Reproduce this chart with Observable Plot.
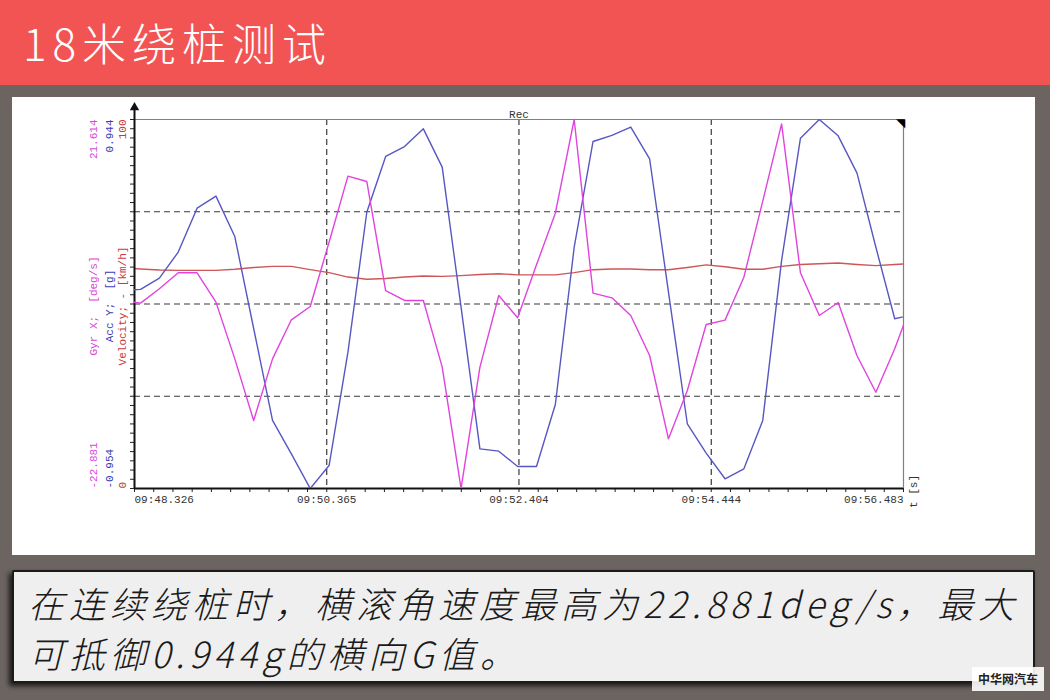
<!DOCTYPE html>
<html><head><meta charset="utf-8">
<script src="https://cdn.jsdelivr.net/npm/d3@7"></script>
<script src="https://cdn.jsdelivr.net/npm/@observablehq/plot@0.6"></script>
<style>
html,body{margin:0;padding:0;}
body{width:1050px;height:700px;background:#6b6460;position:relative;overflow:hidden;font-family:"Noto Sans CJK SC","Noto Sans",sans-serif;}
#header{position:absolute;left:0;top:0;width:1050px;height:85px;background:#f25454;}
#title{position:absolute;left:23px;top:13px;font-size:44px;line-height:58px;color:#fff;letter-spacing:6px;font-weight:300;white-space:nowrap;}
#panel{position:absolute;left:12px;top:97px;width:1023px;height:458px;background:#fff;}
#panel svg{position:absolute;left:0;top:0;overflow:visible;}
#caption{position:absolute;left:12px;top:570px;width:1023px;height:113px;box-sizing:border-box;border:2px solid #1b1b1b;border-radius:2px;background:#efefef;box-shadow:-3px 3px 5px rgba(0,0,0,0.75);}
.cl{position:absolute;left:14px;font-size:36px;line-height:40px;font-style:italic;letter-spacing:5px;color:#1a1a1a;white-space:nowrap;font-weight:300;}
#wm{position:absolute;left:972px;top:667px;width:72px;height:24px;background:rgba(255,255,255,0.9);font-size:12px;font-weight:bold;line-height:24px;text-align:center;color:#222;letter-spacing:0px;}
</style></head>
<body>
<div id="header"><div id="title">18米绕桩测试</div></div>
<div id="panel"></div>
<div id="caption">
  <div class="cl" style="top:10px">在连续绕桩时，横滚角速度最高为22.881deg/s，最大</div>
  <div class="cl" style="top:60px">可抵御0.944g的横向G值。</div>
</div>
<div id="wm">中华网汽车</div>
<script>
// sample times (seconds past 09:48)
const times = [48.19, 48.39, 48.59, 48.79, 48.99, 49.19, 49.39, 49.59, 49.79, 49.99,
  50.19, 50.39, 50.59, 50.79, 50.99, 51.19, 51.39, 51.59, 51.79, 51.99,
  52.19, 52.39, 52.59, 52.79, 52.99, 53.19, 53.39, 53.59, 53.79, 53.99,
  54.19, 54.39, 54.59, 54.79, 54.99, 55.19, 55.39, 55.59, 55.79, 55.99,
  56.19, 56.39, 56.59];
// Gyr X [deg/s]
const gyrX = [-0.21, -0.53, 1.20, 3.13, 3.13, -0.41, -7.25, -14.68, -7.25, -2.54,
  -0.94, 6.82, 14.78, 14.14, 0.99, -0.21, -0.21, -8.25, -22.881, -8.25,
  0.39, -2.30, 4.09, 10.32, 21.614, 0.67, 0.11, -2.02, -6.84, -16.89,
  -11.06, -3.11, -2.58, 2.60, 11.77, 21.09, 3.13, -2.02, -0.45, -6.88,
  -11.27, -6.04, 0.11];
// Acc Y [g]
const accY = [0.064, 0.070, 0.128, 0.262, 0.488, 0.550, 0.342, -0.131, -0.604, -0.776,
  -0.954, -0.836, -0.253, 0.467, 0.754, 0.805, 0.896, 0.699, -0.021, -0.750,
  -0.762, -0.841, -0.841, -0.522, 0.287, 0.831, 0.862, 0.905, 0.742, 0.056,
  -0.621, -0.772, -0.904, -0.853, -0.604, 0.219, 0.848, 0.944, 0.860, 0.668,
  0.287, -0.081, -0.059];
// Velocity [km/h]
const velocity = [59.8, 59.5, 59.2, 59.1, 59.1, 59.1, 59.4, 59.9, 60.2, 60.2,
  59.3, 58.5, 57.3, 56.7, 56.9, 57.3, 57.6, 57.5, 57.7, 58.0,
  58.2, 57.9, 57.9, 57.9, 58.5, 59.3, 59.5, 59.5, 59.3, 59.3,
  59.9, 60.6, 60.1, 59.4, 59.4, 60.2, 60.7, 60.9, 61.1, 60.7,
  60.4, 60.7, 61.0];

const xTicks = [48.326, 50.365, 52.404, 54.444, 56.483];
const xTickLabels = ["09:48.326", "09:50.365", "09:52.404", "09:54.444", "09:56.483"];
const gyrRange = [-22.881, 21.614], gyrRangeLabels = ["-22.881", "21.614"];
const accRange = [-0.954, 0.944], accRangeLabels = ["-0.954", "0.944"];
const velRange = [0, 100], velRangeLabels = ["0", "100"];
const velGrid = [25, 50, 75];
const seriesTitles = ["Gyr X;  [deg/s]", "Acc Y;  [g]", "Velocity; - [km/h]"];

const rows = times.map((t, i) => ({t, gyr: gyrX[i], acc: accY[i], vel: velocity[i]}));
const W = 1023, H = 458;
const M = {marginLeft: 122, marginRight: 132, marginTop: 22, marginBottom: 67};
const xDomain = [xTicks[0], xTicks[xTicks.length - 1]];
const mono = "Liberation Mono, DejaVu Sans Mono, monospace";
const xMinor = d3.range(41).map(i => xDomain[0] + i * (xDomain[1] - xDomain[0]) / 40);
const yMinor = d3.range(41).map(i => i * 2.5);

function rangeLabels(range, labels, title, color, dx) {
  return [
    Plot.text([0], {x: xDomain[0], y: () => range[0], text: () => labels[0], rotate: -90, textAnchor: "start", lineAnchor: "middle", dx, fill: color, fontFamily: mono, fontSize: 11}),
    Plot.text([0], {x: xDomain[0], y: () => range[1], text: () => labels[1], rotate: -90, textAnchor: "end", lineAnchor: "middle", dx, fill: color, fontFamily: mono, fontSize: 11}),
    Plot.text([title], {frameAnchor: "left", rotate: -90, textAnchor: "middle", lineAnchor: "middle", dx, dy: 2, fill: color, fontFamily: mono, fontSize: 11})
  ];
}

const common = {width: W, height: H, ...M, style: {background: "transparent", overflow: "visible"}, x: {domain: xDomain, axis: null}};

const base = Plot.plot({
  ...common,
  y: {domain: velRange, axis: null},
  marks: [
    Plot.ruleY(velGrid, {stroke: "#3a3a3a", strokeDasharray: "6,4", strokeWidth: 1.2}),
    Plot.ruleX(xTicks.slice(1, -1), {stroke: "#3a3a3a", strokeDasharray: "6,4", strokeWidth: 1.2}),
    Plot.ruleY([velRange[1]], {stroke: "#808080", strokeWidth: 1.2}),
    Plot.ruleX([xDomain[1]], {stroke: "#808080", strokeWidth: 1.2}),
    Plot.axisX({ticks: xMinor, tickSize: 4, tickFormat: () => "", label: null, stroke: "#222"}),
    Plot.axisY({ticks: yMinor, tickSize: 4, tickFormat: () => "", label: null, stroke: "#222"}),
    Plot.line(rows, {x: "t", y: "vel", stroke: "#cf5656", strokeWidth: 1.4, clip: true}),
    Plot.ruleY([velRange[0]], {stroke: "#111", strokeWidth: 2}),
    Plot.ruleX([xDomain[0]], {stroke: "#111", strokeWidth: 2, insetTop: -12}),
    Plot.dot([0], {x: () => xDomain[0], y: () => velRange[1], symbol: "triangle", r: 3.5, fill: "#111", dy: -12}),
    Plot.text(["◥"], {frameAnchor: "top-right", textAnchor: "end", lineAnchor: "top", dx: 1, dy: -1, fontSize: 12, fill: "#000"}),
    Plot.text(["Rec"], {frameAnchor: "top", dy: -9, fontFamily: mono, fontSize: 11, fill: "#333"}),
    Plot.text([0], {x: () => xTicks[0], frameAnchor: "bottom", dy: 7, lineAnchor: "top", textAnchor: "start", text: () => xTickLabels[0], fontFamily: mono, fontSize: 11, fill: "#333"}),
    Plot.text([1, 2, 3], {x: i => xTicks[i], frameAnchor: "bottom", dy: 7, lineAnchor: "top", textAnchor: "middle", text: i => xTickLabels[i], fontFamily: mono, fontSize: 11, fill: "#333"}),
    Plot.text([4], {x: i => xTicks[i], frameAnchor: "bottom", dy: 7, lineAnchor: "top", textAnchor: "end", text: i => xTickLabels[i], fontFamily: mono, fontSize: 11, fill: "#333"}),
    Plot.text(["t [s]"], {frameAnchor: "bottom-right", rotate: -90, textAnchor: "middle", lineAnchor: "middle", dx: 10, dy: 3, fontFamily: mono, fontSize: 11, fill: "#333"}),
    ...rangeLabels(velRange, velRangeLabels, seriesTitles[2], "#c83a3a", -12)
  ]
});

const accPlot = Plot.plot({
  ...common,
  y: {domain: accRange, axis: null},
  marks: [
    Plot.line(rows, {x: "t", y: "acc", stroke: "#5757c2", strokeWidth: 1.4, clip: true}),
    ...rangeLabels(accRange, accRangeLabels, seriesTitles[1], "#3a3ab8", -25)
  ]
});

const gyrPlot = Plot.plot({
  ...common,
  y: {domain: gyrRange, axis: null},
  marks: [
    Plot.line(rows, {x: "t", y: "gyr", stroke: "#e044de", strokeWidth: 1.4, clip: true}),
    ...rangeLabels(gyrRange, gyrRangeLabels, seriesTitles[0], "#d848d8", -41)
  ]
});

const panel = document.getElementById("panel");
panel.appendChild(base);
panel.appendChild(accPlot);
panel.appendChild(gyrPlot);
</script>
</body></html>
